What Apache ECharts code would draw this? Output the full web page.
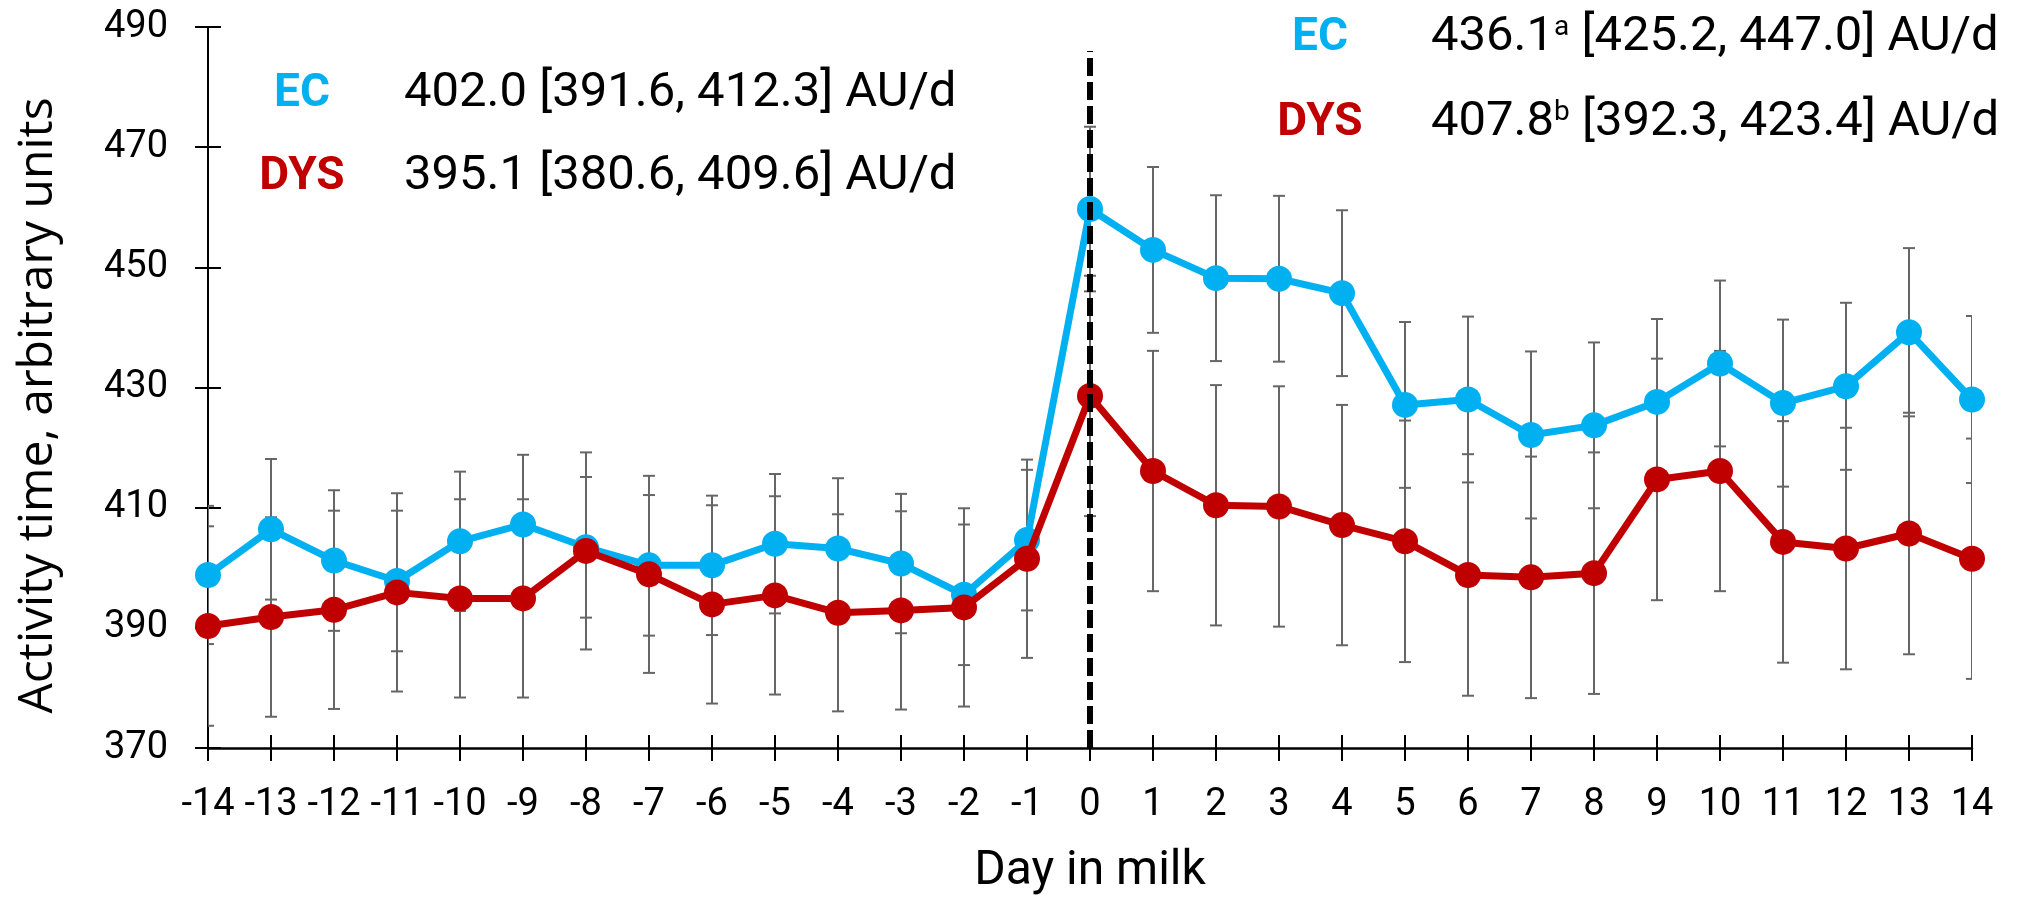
<!DOCTYPE html>
<html>
<head>
<meta charset="utf-8">
<title>Activity time around calving</title>
<script src="https://cdn.jsdelivr.net/npm/echarts@6/dist/echarts.min.js"></script>
<style>
  html, body { margin: 0; padding: 0; background: #ffffff; }
  #chart { width: 2020px; height: 901px; }
</style>
</head>
<body>
<div id="chart"></div>
<script>
// Day relative to calving (day in milk)
const days = [-14, -13, -12, -11, -10, -9, -8, -7, -6, -5, -4, -3, -2, -1, 0,
              1, 2, 3, 4, 5, 6, 7, 8, 9, 10, 11, 12, 13, 14];

// Daily mean activity time, arbitrary units
const ecMean = [398.8, 406.4, 401.2, 397.8, 404.4, 407.2, 403.4, 400.4, 400.4, 404.0,
                403.2, 400.7, 395.5, 404.6, 459.7, 452.9, 448.2, 448.1, 445.7, 427.1,
                428.0, 422.1, 423.7, 427.6, 434.0, 427.4, 430.2, 439.2, 428.0];
const dysMean = [390.3, 391.8, 393.0, 395.9, 394.9, 394.9, 402.8, 398.9, 393.9, 395.4,
                 392.5, 392.9, 393.4, 401.5, 428.6, 416.1, 410.4, 410.2, 407.1, 404.4,
                 398.8, 398.4, 399.1, 414.7, 416.1, 404.3, 403.2, 405.7, 401.5];

// Half-length of the error bar at each day
const ecErr = [11.5, 11.7, 11.7, 11.7, 11.6, 11.6, 11.7, 11.7, 11.6, 11.6,
               11.7, 11.6, 11.7, 11.7, 13.7, 13.8, 13.8, 13.8, 13.8, 13.8,
               13.8, 13.9, 13.8, 13.8, 13.8, 13.9, 13.9, 14.0, 13.9];
const dysErr = [16.6, 16.6, 16.5, 16.5, 16.5, 16.5, 16.4, 16.4, 16.5, 16.5,
                16.4, 16.5, 16.5, 16.5, 20.0, 20.0, 20.0, 20.0, 20.0, 20.1,
                20.1, 20.1, 20.1, 20.1, 20.0, 20.1, 20.1, 20.1, 20.0];

// Period summaries: [group, mean, superscript, lower, upper]
const preSummary = [
  ['EC', '402.0', '', '391.6', '412.3'],
  ['DYS', '395.1', '', '380.6', '409.6']
];
const postSummary = [
  ['EC', '436.1', 'a', '425.2', '447.0'],
  ['DYS', '407.8', 'b', '392.3', '423.4']
];

const yTicks = { min: 370, max: 490, step: 20 };
const calvingLine = [0, 370, 486];

const EC_COLOR = '#00B0F0';
const DYS_COLOR = '#C00000';
const NUM_FONT = 'Roboto, "Open Sans", sans-serif';

const ecPoints = days.map((d, i) => [d, ecMean[i]]);
const dysPoints = days.map((d, i) => [d, dysMean[i]]);
const ecBars = days.map((d, i) => [d, ecMean[i] - ecErr[i], ecMean[i] + ecErr[i]]);
const dysBars = days.map((d, i) => [d, dysMean[i] - dysErr[i], dysMean[i] + dysErr[i]]);

function renderErrorBar(params, api) {
  const x = api.value(0);
  const lo = api.coord([x, api.value(1)]);
  const hi = api.coord([x, api.value(2)]);
  const half = 6;
  const style = { stroke: '#666666', lineWidth: 2 };
  return {
    type: 'group',
    children: [
      { type: 'line', shape: { x1: lo[0], y1: lo[1], x2: hi[0], y2: hi[1] }, style },
      { type: 'line', shape: { x1: hi[0] - half, y1: hi[1], x2: hi[0] + half, y2: hi[1] }, style },
      { type: 'line', shape: { x1: lo[0] - half, y1: lo[1], x2: lo[0] + half, y2: lo[1] }, style }
    ]
  };
}

function summaryTexts(rows, groupX, valueX, ys) {
  const out = [];
  rows.forEach((r, i) => {
    out.push({
      type: 'text', x: groupX, y: ys[i],
      style: {
        text: r[0], fill: r[0] === 'EC' ? EC_COLOR : DYS_COLOR,
        font: 'bold 46px ' + NUM_FONT, align: 'center', verticalAlign: 'middle'
      }
    });
    const body = r[2]
      ? '{n|' + r[1] + '}{s|' + r[2] + '}{n| [' + r[3] + ', ' + r[4] + '] AU/d}'
      : '{n|' + r[1] + ' [' + r[3] + ', ' + r[4] + '] AU/d}';
    out.push({
      type: 'text', x: valueX, y: ys[i],
      style: {
        text: body, align: 'left', verticalAlign: 'middle',
        rich: {
          n: { fontFamily: NUM_FONT, fontSize: 49, lineHeight: 49, fill: '#000' },
          s: { fontFamily: NUM_FONT, fontSize: 28, lineHeight: 36, verticalAlign: 'top', fill: '#000' }
        }
      }
    });
  });
  return out;
}

const chart = echarts.init(document.getElementById('chart'), null, { renderer: 'canvas' });

const axisCommonX = { type: 'value', min: -14, max: 14, interval: 1, gridIndex: 0 };
const axisCommonY = { type: 'value', min: yTicks.min, max: yTicks.max, interval: yTicks.step, gridIndex: 0 };

chart.setOption({
  animation: false,
  backgroundColor: '#ffffff',
  grid: { left: 208, right: 48, top: 27, bottom: 147, containLabel: false },
  xAxis: [
    Object.assign({}, axisCommonX, {
      position: 'bottom',
      name: 'Day in milk', nameLocation: 'middle', nameGap: 100,
      nameTextStyle: { fontFamily: NUM_FONT, fontSize: 48, color: '#000' },
      axisLine: { show: true, onZero: false, lineStyle: { color: '#000', width: 2.5 } },
      axisTick: { show: true, length: 13, lineStyle: { color: '#000', width: 2 } },
      axisLabel: { show: true, margin: 38, fontFamily: NUM_FONT, fontSize: 38, color: '#000',
                   showMinLabel: true, showMaxLabel: true },
      splitLine: { show: false }
    }),
    Object.assign({}, axisCommonX, {
      position: 'bottom',
      axisLine: { show: false, onZero: false },
      axisTick: { show: true, inside: true, length: 13, lineStyle: { color: '#000', width: 2 } },
      axisLabel: { show: false },
      splitLine: { show: false }
    })
  ],
  yAxis: [
    Object.assign({}, axisCommonY, {
      position: 'left',
      name: 'Activity time, arbitrary units', nameLocation: 'middle', nameGap: 146,
      nameTextStyle: { fontFamily: '"Open Sans", "DejaVu Sans", sans-serif', fontSize: 48,
                       color: '#000', padding: [0, 36, 0, 0] },
      axisLine: { show: true, onZero: false, lineStyle: { color: '#000', width: 2 } },
      axisTick: { show: true, length: 13, lineStyle: { color: '#000', width: 2 } },
      axisLabel: { show: true, margin: 40, fontFamily: NUM_FONT, fontSize: 38, color: '#000' },
      splitLine: { show: false }
    }),
    Object.assign({}, axisCommonY, {
      position: 'left',
      axisLine: { show: false, onZero: false },
      axisTick: { show: true, inside: true, length: 13, lineStyle: { color: '#000', width: 2 } },
      axisLabel: { show: false },
      splitLine: { show: false }
    })
  ],
  series: [
    {
      name: 'EC error', type: 'custom', xAxisIndex: 0, yAxisIndex: 0, z: 2, clip: true,
      renderItem: renderErrorBar, data: ecBars, silent: true
    },
    {
      name: 'DYS error', type: 'custom', xAxisIndex: 0, yAxisIndex: 0, z: 2, clip: true,
      renderItem: renderErrorBar, data: dysBars, silent: true
    },
    {
      name: 'EC', type: 'line', xAxisIndex: 0, yAxisIndex: 0, z: 3,
      data: ecPoints, symbol: 'circle', symbolSize: 26, showSymbol: true,
      lineStyle: { color: EC_COLOR, width: 7 },
      itemStyle: { color: EC_COLOR, borderWidth: 0 }
    },
    {
      name: 'DYS', type: 'line', xAxisIndex: 0, yAxisIndex: 0, z: 4,
      data: dysPoints, symbol: 'circle', symbolSize: 26, showSymbol: true,
      lineStyle: { color: DYS_COLOR, width: 7 },
      itemStyle: { color: DYS_COLOR, borderWidth: 0 }
    },
    {
      name: 'Calving', type: 'line', xAxisIndex: 0, yAxisIndex: 0, z: 6, data: [],
      markLine: {
        silent: true, symbol: ['none', 'none'], label: { show: false },
        lineStyle: { color: '#000', width: 6, type: [18, 6] },
        data: [[{ coord: [calvingLine[0], calvingLine[1]] }, { coord: [calvingLine[0], calvingLine[2]] }]]
      }
    }
  ],
  graphic: summaryTexts(preSummary, 302, 404, [94, 177])
    .concat(summaryTexts(postSummary, 1320, 1431, [38, 123]))
});
</script>
</body>
</html>
